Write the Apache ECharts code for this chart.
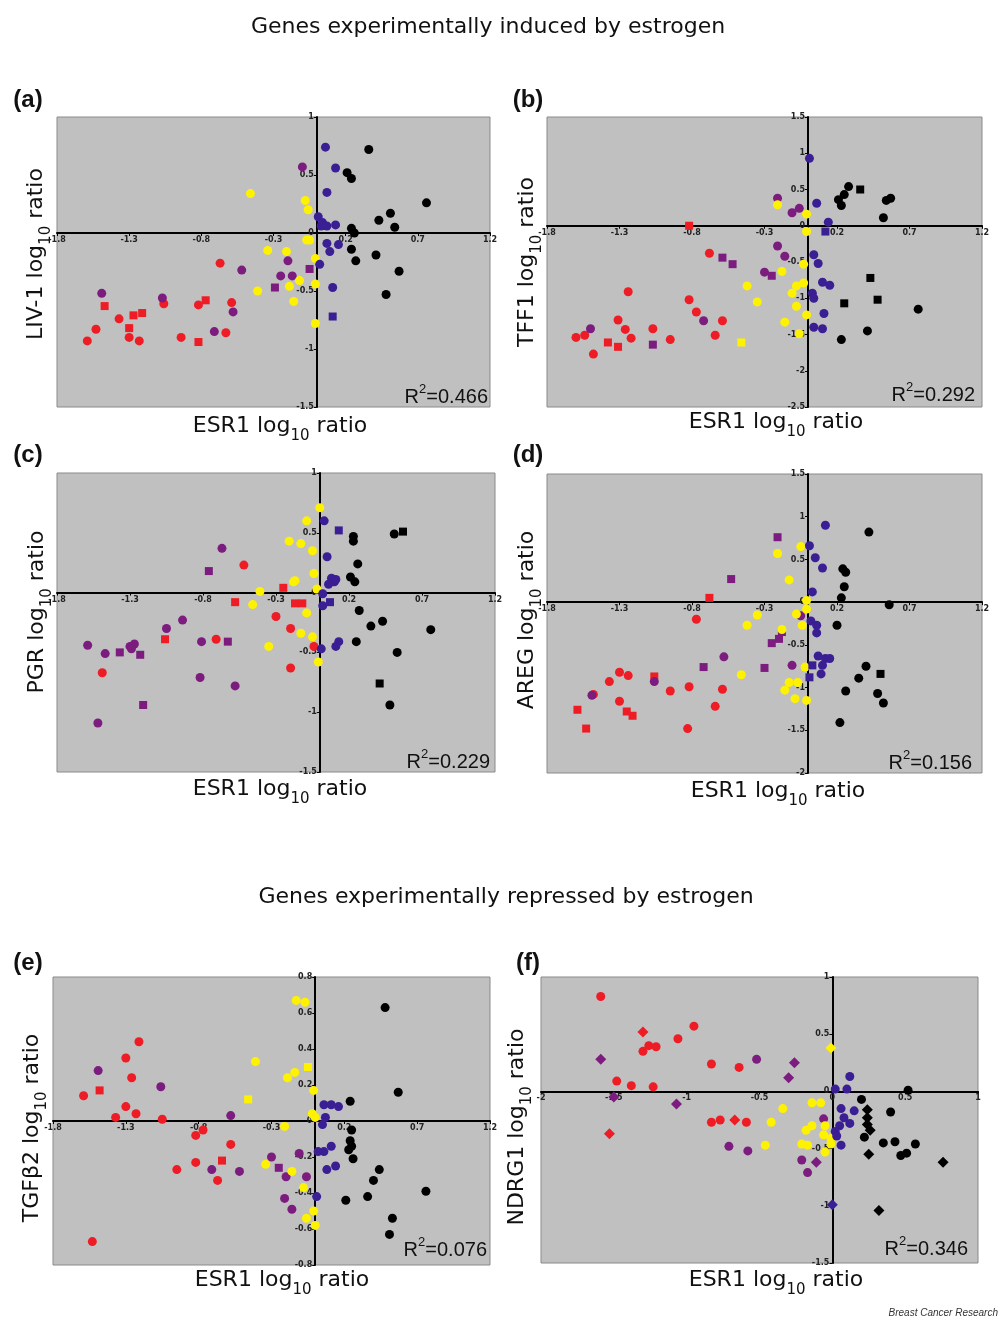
<!DOCTYPE html>
<html>
<head>
<meta charset="utf-8">
<script src="https://cdn.jsdelivr.net/npm/echarts@6/dist/echarts.min.js"></script>
<style>
html,body{margin:0;padding:0;background:#fff;}
#chart{width:1000px;height:1319px;}
</style>
</head>
<body>
<div id="chart"></div>
<script>
// ---------- DATA ----------
// each point: [ESR1 log10 ratio, gene log10 ratio, marker group (0 = round, 1 = square / diamond)]
const panelLetters = ['(a)', '(b)', '(c)', '(d)', '(e)', '(f)'];
const geneNames = ['LIV-1', 'TFF1', 'PGR', 'AREG', 'TGFβ2', 'NDRG1'];
const rSquared = ['0.466', '0.292', '0.229', '0.156', '0.076', '0.346'];
const sectionTitles = ['Genes experimentally induced by estrogen', 'Genes experimentally repressed by estrogen'];
const xAxisTitle = 'ESR1';

// axis ranges [min, max, interval]
const xScaleA = [-1.8, 1.2, 0.5], yScaleA = [-1.5, 1, 0.5];
const xScaleB = [-1.8, 1.2, 0.5], yScaleB = [-2.5, 1.5, 0.5];
const xScaleC = [-1.8, 1.2, 0.5], yScaleC = [-1.5, 1, 0.5];
const xScaleD = [-1.8, 1.2, 0.5], yScaleD = [-2, 1.5, 0.5];
const xScaleE = [-1.8, 1.2, 0.5], yScaleE = [-0.8, 0.8, 0.2];
const xScaleF = [-2, 1, 0.5],     yScaleF = [-1.5, 1, 0.5];

// (a) LIV-1
const redA = [[-0.67,-0.26,0],[-0.59,-0.60,0],[-0.82,-0.62,0],[-0.77,-0.58,1],[-1.06,-0.61,0],[-1.47,-0.63,1],[-1.37,-0.74,0],[-1.27,-0.71,1],[-1.21,-0.69,1],[-1.53,-0.83,0],[-1.30,-0.82,1],[-1.59,-0.93,0],[-1.30,-0.90,0],[-1.23,-0.93,0],[-0.94,-0.90,0],[-0.82,-0.94,1],[-0.63,-0.86,0]];
const purpleA = [[-0.10,0.57,0],[-0.52,-0.32,0],[-0.20,-0.24,0],[-0.25,-0.37,0],[-0.17,-0.37,0],[-0.29,-0.47,1],[-0.05,-0.31,1],[-1.49,-0.52,0],[-1.07,-0.56,0],[-0.58,-0.68,0],[-0.71,-0.85,0]];
const yellowA = [[-0.46,0.34,0],[-0.08,0.28,0],[-0.06,0.20,0],[-0.07,-0.06,0],[-0.05,-0.06,0],[-0.34,-0.15,0],[-0.21,-0.16,0],[-0.01,-0.22,0],[-0.12,-0.41,0],[-0.19,-0.46,0],[-0.41,-0.50,0],[-0.01,-0.44,0],[-0.16,-0.59,0],[-0.01,-0.78,0]];
const blueA = [[0.06,0.74,0],[0.13,0.56,0],[0.07,0.35,0],[0.01,0.14,0],[0.04,0.09,0],[0.03,0.06,0],[0.07,0.06,0],[0.13,0.07,0],[0.07,-0.09,0],[0.09,-0.16,0],[0.15,-0.10,0],[0.02,-0.27,0],[0.11,-0.47,0],[0.11,-0.72,1]];
const blackA = [[0.36,0.72,0],[0.21,0.52,0],[0.24,0.47,0],[0.76,0.26,0],[0.51,0.17,0],[0.43,0.11,0],[0.54,0.05,0],[0.24,0.04,0],[0.26,0.00,0],[0.24,-0.14,0],[0.27,-0.24,0],[0.41,-0.19,0],[0.57,-0.33,0],[0.48,-0.53,0]];

// (b) TFF1
const redB = [[-0.82,0.00,1],[-0.68,-0.38,0],[-1.24,-0.91,0],[-0.82,-1.02,0],[-0.77,-1.19,0],[-0.59,-1.31,0],[-0.64,-1.51,0],[-0.95,-1.57,0],[-1.07,-1.42,0],[-1.31,-1.30,0],[-1.26,-1.43,0],[-1.22,-1.55,0],[-1.38,-1.61,1],[-1.31,-1.67,1],[-1.60,-1.54,0],[-1.54,-1.51,0],[-1.48,-1.77,0]];
const purpleB = [[-0.21,0.38,0],[-0.11,0.18,0],[-0.06,0.24,0],[-0.21,-0.28,0],[-0.16,-0.42,0],[-0.59,-0.44,1],[-0.52,-0.53,1],[-0.30,-0.64,0],[-0.25,-0.69,1],[-1.50,-1.42,0],[-1.07,-1.64,1],[-0.72,-1.31,0]];
const yellowB = [[-0.21,0.29,0],[-0.01,0.16,0],[-0.01,-0.08,0],[-0.03,-0.53,0],[-0.18,-0.63,0],[-0.42,-0.83,0],[-0.35,-1.05,0],[-0.03,-0.79,0],[-0.08,-0.83,0],[-0.11,-0.93,0],[-0.08,-1.11,0],[-0.01,-1.23,0],[-0.16,-1.33,0],[-0.06,-1.49,0],[-0.46,-1.61,1]];
const blueB = [[0.01,0.93,0],[0.06,0.31,0],[0.14,0.05,0],[0.12,-0.08,1],[0.04,-0.40,0],[0.07,-0.52,0],[0.10,-0.78,0],[0.15,-0.82,0],[0.03,-0.93,0],[0.04,-1.00,0],[0.11,-1.21,0],[0.04,-1.40,0],[0.10,-1.42,0]];
const blackB = [[0.28,0.54,0],[0.36,0.50,1],[0.21,0.36,0],[0.23,0.28,0],[0.25,0.43,0],[0.52,0.11,0],[0.54,0.35,0],[0.57,0.38,0],[0.43,-0.72,1],[0.48,-1.02,1],[0.25,-1.07,1],[0.76,-1.15,0],[0.41,-1.45,0],[0.23,-1.57,0]];

// (c) PGR
const redC = [[-0.52,0.23,0],[-0.58,-0.08,1],[-0.25,0.04,1],[-0.17,-0.09,1],[-0.12,-0.09,1],[-0.30,-0.20,0],[-0.20,-0.30,0],[-0.71,-0.39,0],[-1.06,-0.39,1],[-0.04,-0.45,0],[-0.20,-0.63,0],[-1.49,-0.67,0]];
const purpleC = [[-0.67,0.37,0],[-0.76,0.18,1],[-0.94,-0.23,0],[-1.05,-0.30,0],[-0.81,-0.41,0],[-0.63,-0.41,1],[-1.59,-0.44,0],[-1.47,-0.51,0],[-1.37,-0.50,1],[-1.30,-0.45,0],[-1.27,-0.43,0],[-1.29,-0.47,0],[-1.23,-0.52,1],[-0.82,-0.71,0],[-0.58,-0.78,0],[-1.21,-0.94,1],[-1.52,-1.09,0]];
const yellowC = [[0.00,0.71,0],[-0.09,0.60,0],[-0.21,0.43,0],[-0.13,0.41,0],[-0.05,0.35,0],[-0.04,0.16,0],[-0.17,0.10,0],[-0.18,0.09,0],[-0.02,0.03,0],[-0.41,0.01,0],[-0.46,-0.10,0],[-0.09,-0.17,0],[-0.13,-0.34,0],[-0.05,-0.37,0],[-0.35,-0.45,0],[-0.01,-0.58,0]];
const blueC = [[0.03,0.60,0],[0.13,0.52,1],[0.05,0.30,0],[0.08,0.12,0],[0.10,0.09,0],[0.06,0.07,0],[0.11,0.11,0],[0.02,-0.01,0],[0.02,-0.11,0],[0.07,-0.08,1],[0.13,-0.41,0],[0.11,-0.45,0],[0.01,-0.47,0]];
const blackC = [[0.23,0.47,0],[0.23,0.43,0],[0.26,0.24,0],[0.21,0.13,0],[0.24,0.09,0],[0.51,0.49,0],[0.57,0.51,1],[0.27,-0.15,0],[0.43,-0.24,0],[0.35,-0.28,0],[0.76,-0.31,0],[0.25,-0.41,0],[0.53,-0.50,0],[0.41,-0.76,1],[0.48,-0.94,0]];

// (d) AREG
const redD = [[-0.68,0.05,1],[-0.77,-0.20,0],[-1.06,-0.87,1],[-0.95,-1.04,0],[-0.82,-0.99,0],[-0.59,-1.02,0],[-0.64,-1.22,0],[-0.83,-1.48,0],[-1.37,-0.93,0],[-1.30,-0.82,0],[-1.24,-0.86,0],[-1.30,-1.16,0],[-1.25,-1.28,1],[-1.21,-1.33,1],[-1.48,-1.08,0],[-1.59,-1.26,1],[-1.53,-1.48,1]];
const purpleD = [[-0.21,0.76,1],[-0.53,0.27,1],[-0.05,-0.16,0],[-0.18,-0.35,1],[-0.20,-0.43,1],[-0.25,-0.48,1],[-0.58,-0.64,0],[-0.72,-0.76,1],[-0.30,-0.77,1],[-0.11,-0.74,0],[-1.06,-0.93,0],[-1.49,-1.09,0]];
const yellowD = [[-0.05,0.65,0],[-0.21,0.57,0],[-0.13,0.26,0],[-0.01,0.02,0],[-0.01,-0.08,0],[-0.08,-0.14,0],[-0.35,-0.15,0],[-0.42,-0.27,0],[-0.04,-0.27,0],[-0.18,-0.32,0],[-0.02,-0.76,0],[-0.46,-0.85,0],[-0.13,-0.94,0],[-0.07,-0.94,0],[-0.16,-1.03,0],[-0.09,-1.13,0],[-0.01,-1.15,0]];
const blueD = [[0.12,0.90,0],[0.01,0.66,0],[0.05,0.52,0],[0.10,0.40,0],[0.03,0.12,0],[0.02,-0.22,0],[0.06,-0.27,0],[0.06,-0.36,0],[0.07,-0.63,0],[0.12,-0.66,0],[0.15,-0.66,0],[0.03,-0.74,1],[0.10,-0.74,0],[0.09,-0.84,0],[0.01,-0.88,1]];
const blackD = [[0.42,0.82,0],[0.24,0.39,0],[0.26,0.35,0],[0.25,0.18,0],[0.23,0.05,0],[0.56,-0.03,0],[0.20,-0.27,0],[0.40,-0.75,0],[0.35,-0.89,0],[0.50,-0.84,1],[0.26,-1.04,0],[0.48,-1.07,0],[0.52,-1.18,0],[0.22,-1.41,0]];

// (e) TGFβ2
const redE = [[-1.21,0.44,0],[-1.30,0.35,0],[-1.26,0.24,0],[-1.48,0.17,1],[-1.59,0.14,0],[-1.30,0.08,0],[-1.23,0.04,0],[-1.37,0.02,0],[-1.05,0.01,0],[-0.77,-0.05,0],[-0.82,-0.08,0],[-0.58,-0.13,0],[-0.64,-0.22,1],[-0.95,-0.27,0],[-0.82,-0.23,0],[-0.67,-0.33,0],[-1.53,-0.67,0]];
const purpleE = [[-1.49,0.28,0],[-1.06,0.19,0],[-0.58,0.03,0],[-0.71,-0.27,0],[-0.52,-0.28,0],[-0.30,-0.20,0],[-0.25,-0.26,1],[-0.11,-0.18,0],[-0.20,-0.31,0],[-0.06,-0.31,0],[-0.21,-0.43,0],[-0.16,-0.49,0]];
const yellowE = [[-0.13,0.67,0],[-0.07,0.66,0],[-0.41,0.33,0],[-0.14,0.27,0],[-0.19,0.24,0],[-0.05,0.30,1],[-0.46,0.12,1],[-0.01,0.17,0],[-0.02,0.04,0],[0.00,0.02,0],[-0.21,-0.03,0],[-0.34,-0.24,0],[-0.16,-0.28,0],[-0.08,-0.37,0],[-0.01,-0.50,0],[-0.06,-0.54,0],[0.00,-0.58,0]];
const blueE = [[0.06,0.09,0],[0.11,0.09,0],[0.16,0.08,0],[0.07,0.02,0],[0.05,-0.02,0],[0.11,-0.14,0],[0.06,-0.17,0],[0.02,-0.17,0],[0.14,-0.25,0],[0.08,-0.27,0],[0.01,-0.42,0]];
const blackE = [[0.48,0.63,0],[0.57,0.16,0],[0.24,0.11,0],[0.25,-0.05,0],[0.24,-0.11,0],[0.25,-0.14,0],[0.23,-0.16,0],[0.26,-0.21,0],[0.44,-0.27,0],[0.40,-0.33,0],[0.76,-0.39,0],[0.36,-0.42,0],[0.21,-0.44,0],[0.53,-0.54,0],[0.51,-0.63,0]];

// (f) NDRG1
const redF = [[-1.59,0.83,0],[-1.30,0.52,1],[-1.30,0.35,0],[-1.26,0.40,0],[-1.21,0.39,0],[-1.06,0.46,0],[-0.95,0.57,0],[-0.83,0.24,0],[-0.64,0.21,0],[-1.48,0.09,0],[-1.38,0.05,0],[-1.23,0.04,0],[-1.53,-0.37,1],[-0.83,-0.27,0],[-0.77,-0.25,0],[-0.67,-0.25,1],[-0.59,-0.27,0]];
const purpleF = [[-1.59,0.28,1],[-1.50,-0.05,1],[-1.07,-0.11,1],[-0.52,0.28,0],[-0.26,0.25,1],[-0.30,0.12,1],[-0.06,-0.24,0],[-0.71,-0.48,0],[-0.58,-0.52,0],[-0.21,-0.60,0],[-0.11,-0.62,1],[-0.17,-0.71,0]];
const yellowF = [[-0.01,0.38,1],[-0.14,-0.10,0],[-0.08,-0.10,0],[-0.34,-0.15,0],[-0.42,-0.27,0],[-0.14,-0.30,0],[-0.18,-0.34,0],[-0.05,-0.30,0],[-0.06,-0.38,0],[-0.01,-0.41,0],[-0.01,-0.46,0],[-0.46,-0.47,0],[-0.21,-0.46,0],[-0.17,-0.47,0],[-0.05,-0.53,0]];
const blueF = [[0.02,0.02,0],[0.10,0.02,0],[0.12,0.13,0],[0.06,-0.15,0],[0.15,-0.17,0],[0.08,-0.23,0],[0.12,-0.28,0],[0.05,-0.30,0],[0.02,-0.35,0],[0.03,-0.39,0],[0.06,-0.47,0],[0.00,-0.99,1]];
const blackF = [[0.20,-0.07,0],[0.52,0.01,0],[0.24,-0.16,1],[0.24,-0.23,1],[0.24,-0.29,1],[0.26,-0.34,1],[0.22,-0.40,0],[0.40,-0.18,0],[0.25,-0.55,1],[0.35,-0.45,0],[0.43,-0.44,0],[0.57,-0.46,0],[0.47,-0.56,0],[0.51,-0.54,0],[0.76,-0.62,1],[0.32,-1.04,1]];

// ---------- LAYOUT / STYLE ----------
const FONT = '"Liberation Sans", Arial, Helvetica, sans-serif';
const WIDE = '"DejaVu Sans", Verdana, sans-serif';
const COLORS = { red: '#ee1c24', purple: '#7b1c7e', blue: '#3a1e94', yellow: '#fff200', black: '#000000' };

const panels = [
  { x: xScaleA, y: yScaleA, groups: [redA, purpleA, yellowA, blueA, blackA], alt: 'rect' },
  { x: xScaleB, y: yScaleB, groups: [redB, purpleB, yellowB, blueB, blackB], alt: 'rect' },
  { x: xScaleC, y: yScaleC, groups: [redC, purpleC, yellowC, blueC, blackC], alt: 'rect' },
  { x: xScaleD, y: yScaleD, groups: [redD, purpleD, yellowD, blueD, blackD], alt: 'rect' },
  { x: xScaleE, y: yScaleE, groups: [redE, purpleE, yellowE, blueE, blackE], alt: 'rect' },
  { x: xScaleF, y: yScaleF, groups: [redF, purpleF, yellowF, blueF, blackF], alt: 'diamond' }
];
const groupColors = [COLORS.red, COLORS.purple, COLORS.yellow, COLORS.blue, COLORS.black];

const gridPos = [
  { left: 57,  top: 117, width: 433, height: 290 },
  { left: 547, top: 117, width: 435, height: 290 },
  { left: 57,  top: 473, width: 438, height: 299 },
  { left: 547, top: 474, width: 435, height: 299 },
  { left: 53,  top: 977, width: 437, height: 288 },
  { left: 541, top: 977, width: 437, height: 286 }
];
// text anchor positions
const xTitlePos = [[280, 426], [776, 422], [280, 789], [778, 791], [282, 1280], [776, 1280]];
const yTitlePos = [[36, 254], [527, 262], [37, 612], [527, 620], [32, 1128], [517, 1127]];
const rPos = [[488, 397], [975, 395], [490, 762], [972, 763], [487, 1250], [968, 1249]];
const letterPos = [[28, 100], [528, 100], [28, 455], [528, 455], [28, 963], [528, 963]];

const grids = [], xAxes = [], yAxes = [], series = [], graphics = [];

function axisBase() {
  return {
    type: 'value',
    axisLine: { show: true, onZero: false, lineStyle: { color: '#000', width: 2 } },
    axisTick: { show: true, length: 3, lineStyle: { color: '#000', width: 1 } },
    axisLabel: { fontSize: 8, color: '#222', fontWeight: 'bold', fontFamily: 'Verdana, "DejaVu Sans", sans-serif', margin: 3 },
    splitLine: { show: false }
  };
}

panels.forEach((p, i) => {
  const g = gridPos[i];
  grids.push(Object.assign({ show: true, backgroundColor: '#c0c0c0', borderColor: '#8a8a8a', borderWidth: 1, containLabel: false }, g));
  // place the axes through the origin (as in the original figure): shift them in from the grid edge
  const xShift = g.height * (0 - p.y[0]) / (p.y[1] - p.y[0]);
  const yShift = g.width * (0 - p.x[0]) / (p.x[1] - p.x[0]);
  xAxes.push(Object.assign(axisBase(), { gridIndex: i, position: 'bottom', offset: -xShift, min: p.x[0], max: p.x[1], interval: p.x[2] }));
  yAxes.push(Object.assign(axisBase(), { gridIndex: i, position: 'left', offset: -yShift, min: p.y[0], max: p.y[1], interval: p.y[2] }));
  p.groups.forEach((grp, k) => {
    series.push({
      type: 'scatter',
      xAxisIndex: i, yAxisIndex: i,
      data: grp,
      symbol: (v) => v[2] ? p.alt : 'circle',
      symbolSize: (v) => v[2] ? (p.alt === 'diamond' ? 11 : 8) : 9,
      itemStyle: { color: groupColors[k], opacity: 1 },
      silent: true,
      animation: false
    });
  });

  const rich = {
    m: { fontSize: 22, lineHeight: 36, fontFamily: WIDE, fill: '#111' },
    s: { fontSize: 15, verticalAlign: 'bottom', fontFamily: WIDE, fill: '#111' }
  };
  graphics.push({
    type: 'text', x: xTitlePos[i][0], y: xTitlePos[i][1],
    style: { text: '{m|' + xAxisTitle + ' log}{s|10}{m| ratio}', align: 'center', verticalAlign: 'middle', fill: '#111', rich: rich }
  });
  graphics.push({
    type: 'text', x: yTitlePos[i][0], y: yTitlePos[i][1], rotation: Math.PI / 2,
    style: { text: '{m|' + geneNames[i] + ' log}{s|10}{m| ratio}', align: 'center', verticalAlign: 'middle', fill: '#111', rich: rich }
  });
  graphics.push({
    type: 'text', x: rPos[i][0], y: rPos[i][1], z: 100,
    style: {
      text: '{m|R}{p|2}{m|=' + rSquared[i] + '}',
      align: 'right', verticalAlign: 'middle', fill: '#111',
      rich: {
        m: { fontSize: 20, lineHeight: 28, fontFamily: FONT, fill: '#111' },
        p: { fontSize: 13, verticalAlign: 'top', fontFamily: FONT, fill: '#111' }
      }
    }
  });
  graphics.push({
    type: 'text', x: letterPos[i][0], y: letterPos[i][1],
    style: { text: panelLetters[i], font: 'bold 24px ' + FONT, fill: '#111', align: 'center', verticalAlign: 'middle' }
  });
});

graphics.push({ type: 'text', x: 488, y: 27, style: { text: sectionTitles[0], font: '22px ' + WIDE, fill: '#111', align: 'center', verticalAlign: 'middle' } });
graphics.push({ type: 'text', x: 506, y: 897, style: { text: sectionTitles[1], font: '22px ' + WIDE, fill: '#111', align: 'center', verticalAlign: 'middle' } });
graphics.push({ type: 'text', x: 998, y: 1313, style: { text: 'Breast Cancer Research', font: 'italic 10px ' + FONT, fill: '#333', align: 'right', verticalAlign: 'middle' } });

const chart = echarts.init(document.getElementById('chart'), null, { renderer: 'canvas' });
chart.setOption({
  backgroundColor: '#ffffff',
  animation: false,
  grid: grids,
  xAxis: xAxes,
  yAxis: yAxes,
  series: series,
  graphic: graphics
});
</script>
</body>
</html>
